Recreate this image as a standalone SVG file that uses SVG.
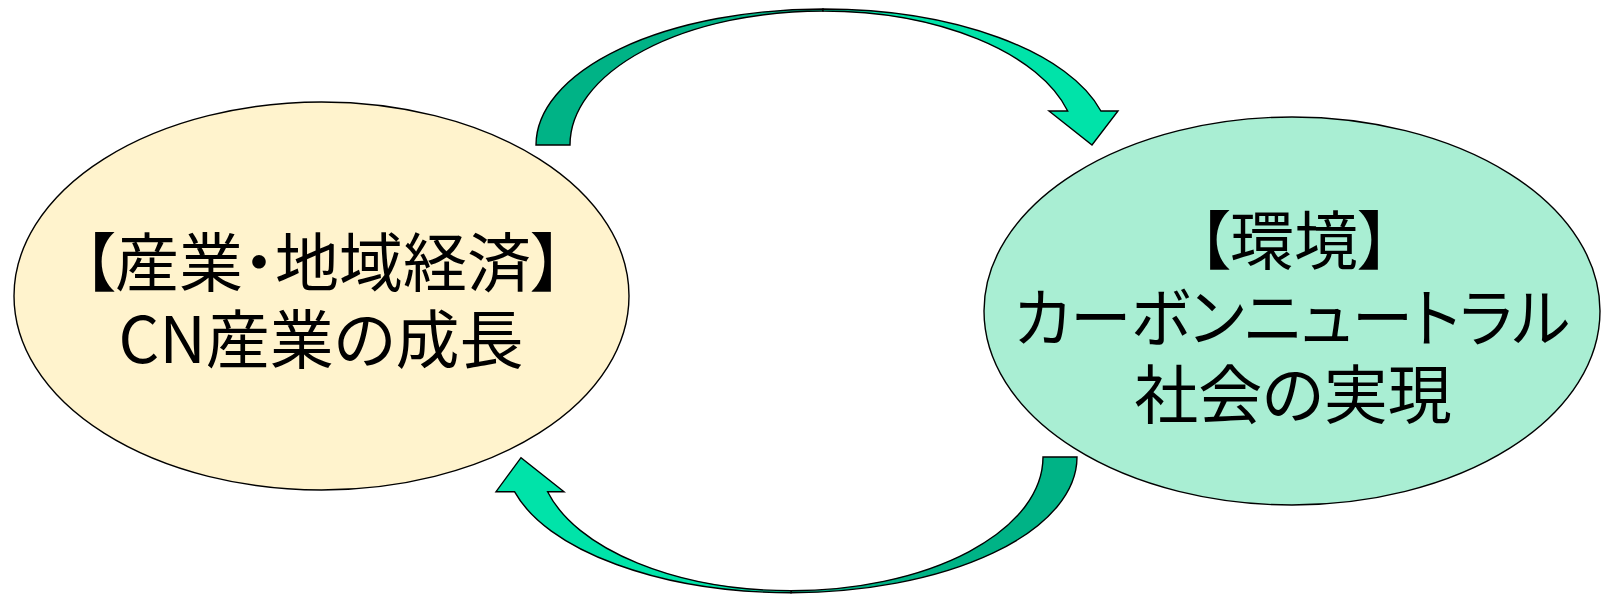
<svg xmlns="http://www.w3.org/2000/svg" width="1608" height="594" viewBox="0 0 1608 594">
<style>
.node{stroke:#000;stroke-width:1.4}
.t{font-family:"Noto Sans CJK JP","Noto Sans",sans-serif;font-size:64px;fill:#000;text-anchor:middle;font-feature-settings:"palt"}
.dark{fill:#00B386;stroke:#000;stroke-width:1.4;stroke-linejoin:miter}
.light{fill:#00E3A9;stroke:#000;stroke-width:1.4;stroke-linejoin:miter}
</style>
<rect width="1608" height="594" fill="#fff"/>
<g id="node-economy">
<ellipse class="node" cx="321.5" cy="296" rx="307.5" ry="194" fill="#FFF3CD"/>
<text class="t" x="323" y="286">【産業・地域経済】</text>
<text class="t" x="321" y="363">CN産業の成長</text>
</g>
<g id="node-environment">
<ellipse class="node" cx="1292" cy="311" rx="308" ry="194" fill="#A9EED3"/>
<text class="t" x="1294" y="264">【環境】</text>
<text class="t" x="1292" y="341" textLength="556" lengthAdjust="spacingAndGlyphs">カーボンニュートラル</text>
<text class="t" x="1293" y="418">社会の実現</text>
</g>
<g id="connectors">
<path class="dark" d="M536,145 A287,136 0 0,1 823,9 L823,11 A253,134 0 0,0 570,145 Z"/>
<path class="light" d="M823,9 A287,136 0 0,1 1100.9,111 L1118,111 L1092,145 L1049,111 L1067.7,111 A253,134 0 0,0 823,11 Z"/>
<path class="dark" d="M1077,457 A286,135.7 0 0,1 791,592.7 L791,590.7 A252,133.7 0 0,0 1043,457 Z"/>
<path class="light" d="M791,592.7 A286,135.7 0 0,1 514.5,491.7 L496,491.7 L521,457.7 L564,491.7 L547.6,491.7 A252,133.7 0 0,0 791,590.7 Z"/>
</g>
</svg>
